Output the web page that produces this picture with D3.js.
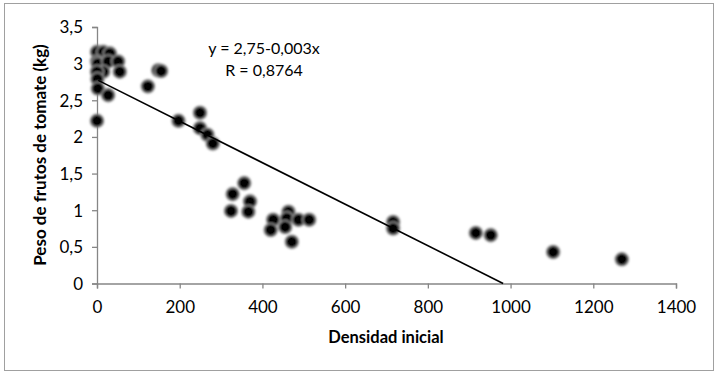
<!DOCTYPE html>
<html>
<head>
<meta charset="utf-8">
<script src="https://cdn.jsdelivr.net/npm/d3@7"></script>
<style>
  body { margin: 0; background: #fff; }
  svg { display: block; font-family: Lato, "Open Sans", sans-serif; }
</style>
</head>
<body>
<script>
const width = 720, height = 375;

// values
const densidad = [0, 15, 31, 0, 2, 27, 51, 15, 55, 0, 1, 2, 27, 0,
  148, 155, 123, 197, 249, 249, 267, 280,
  356, 328, 370, 324, 366, 463, 426, 459, 487, 513, 420, 455, 471,
  716, 716, 916, 952, 1103, 1269];
const peso = [3.16, 3.16, 3.14, 3.03, 3.0, 3.03, 3.03, 2.89, 2.89, 2.89, 2.79, 2.66, 2.57, 2.22,
  2.91, 2.90, 2.69, 2.22, 2.33, 2.12, 2.03, 1.91,
  1.37, 1.22, 1.12, 0.99, 0.98, 0.98, 0.87, 0.89, 0.87, 0.87, 0.73, 0.77, 0.57,
  0.84, 0.75, 0.69, 0.66, 0.43, 0.33];

const xTicks = [0, 200, 400, 600, 800, 1000, 1200, 1400];
const yTicks = [0, 0.5, 1, 1.5, 2, 2.5, 3, 3.5];

// trend line as drawn (start / end x and fitted values)
const lineX = [3, 982];
const intercept = 2.78, slope = -0.00283;
const equationText = ["y = 2,75-0,003x", "R = 0,8764"];

const x = d3.scaleLinear().domain([0, 1400]).range([97, 676]);
const y = d3.scaleLinear().domain([0, 3.5]).range([283.5, 27]);
const fmt = d => String(d).replace(".", ",");

const svg = d3.select("body").append("svg")
  .attr("width", width)
  .attr("height", height);

const defs = svg.append("defs");
defs.append("filter").attr("id", "soft")
  .attr("x", "-50%").attr("y", "-50%").attr("width", "200%").attr("height", "200%")
  .append("feGaussianBlur").attr("stdDeviation", 0.8);

// outer frame
svg.append("rect")
  .attr("x", 4.5).attr("y", 3.5)
  .attr("width", 709).attr("height", 367)
  .attr("fill", "none").attr("stroke", "#a0a0a0");

// axes
const xAxis = svg.append("g")
  .attr("transform", `translate(0,${y(0)})`)
  .call(d3.axisBottom(x).tickValues(xTicks).tickSize(5).tickPadding(12).tickFormat(fmt));
const yAxis = svg.append("g")
  .attr("transform", `translate(${x(0)},0)`)
  .call(d3.axisLeft(y).tickValues(yTicks).tickSize(5).tickPadding(9).tickFormat(fmt));

[xAxis, yAxis].forEach(g => {
  g.select(".domain").attr("stroke", "#868686").attr("stroke-width", 1.3);
  g.selectAll(".tick line").attr("stroke", "#868686").attr("stroke-width", 1.3);
  g.selectAll(".tick text").attr("fill", "#000")
    .style("font-size", "17px").style("font-family", "Lato, sans-serif");
});
yAxis.selectAll(".tick text").attr("dy", "0.35em");

// points
const pts = densidad.map((d, i) => ({ x: d, y: peso[i] }));
svg.append("g")
  .attr("filter", "url(#soft)")
  .selectAll("circle")
  .data(pts)
  .enter()
  .append("circle")
  .attr("cx", d => x(d.x))
  .attr("cy", d => y(d.y))
  .attr("r", 6.5)
  .attr("fill", "#050505")
  .attr("stroke", "#8a8a8a")
  .attr("stroke-width", 1.6);

// trend line
svg.append("line")
  .attr("x1", x(lineX[0])).attr("y1", y(intercept + slope * lineX[0]))
  .attr("x2", x(lineX[1])).attr("y2", y(intercept + slope * lineX[1]))
  .attr("stroke", "#000").attr("stroke-width", 1.6);

// equation
svg.append("g").selectAll("text")
  .data(equationText)
  .enter()
  .append("text")
  .attr("x", 264)
  .attr("y", (d, i) => 54 + i * 22)
  .attr("text-anchor", "middle")
  .style("font-size", "16px")
  .text(d => d);

// axis titles
svg.append("text")
  .attr("x", 386).attr("y", 343)
  .attr("text-anchor", "middle")
  .style("font-size", "16.5px").style("font-weight", "bold")
  .text("Densidad inicial");

svg.append("text")
  .attr("transform", "translate(46,155) rotate(-90)")
  .attr("text-anchor", "middle")
  .style("font-size", "17px").style("font-weight", "bold")
  .text("Peso de frutos de tomate (kg)");
</script>
</body>
</html>
